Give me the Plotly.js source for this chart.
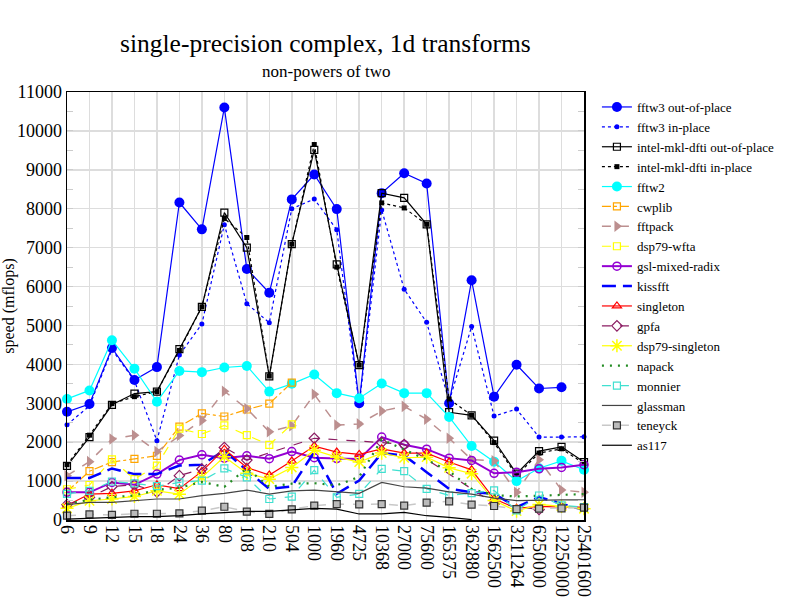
<!DOCTYPE html>
<html>
<head>
<meta charset="utf-8">
<script src="https://cdn.plot.ly/plotly-3.0.1.min.js"></script>
<style>html,body{margin:0;padding:0;background:#fff;}#chart{width:792px;height:612px;}</style>
</head>
<body>
<div id="chart"></div>
<script>
const sizes = ["6","9","12","15","18","24","36","80","108","210","504","1000","1960","4725","10368","27000","75600","165375","362880","1562500","3211264","6250000","12250000","25401600"];

const fftw3Out = [2780,2980,4420,3600,3930,8160,7470,10600,6450,5840,8240,8880,7990,3000,8400,8910,8650,3000,6160,3170,3990,3380,3410,null];
const fftw3In = [2450,2930,4380,3580,2040,4240,5040,7590,5560,5070,8000,8250,7460,2950,7970,5930,5080,3050,4970,2670,2850,2130,2130,2140];
const mklOut = [1390,2130,2960,3250,3300,4390,5480,7900,7000,3690,7090,9510,6570,3980,8400,8280,7600,2770,2690,2040,1190,1770,1880,1490];
const mklIn = [1420,2180,2990,3170,3300,4360,5480,7750,7260,3700,7090,9650,6500,3980,8150,8020,7600,3110,2690,1990,1140,1720,1830,1450];
const fftw2 = [3110,3330,4620,3890,3040,3830,3800,3920,3960,3300,3500,3740,3260,3130,3510,3260,3260,2650,1900,1500,1000,1330,1520,1290];
const cwplib = [730,1255,1490,1570,1650,2400,2740,2660,2840,2990,3530,null,null,null,null,null,null,null,null,null,null,null,null,null];
const fftpack = [1140,1500,2080,2180,1760,2170,2560,3310,2860,2270,2420,3230,2440,2470,2800,2920,2590,2100,1550,1520,715,1550,770,715];
const dsp79Wfta = [790,900,1560,1050,1400,2350,2210,2430,2180,1930,2460,null,null,null,null,null,null,null,null,null,null,null,null,null];
const gsl = [710,710,965,905,1180,1540,1675,1590,1650,1575,1760,1600,1580,1565,2130,1935,1820,1590,1530,1200,1230,1316,1350,1420];
const kissfft = [1080,1080,1325,1180,1180,1400,1420,1790,1270,800,860,1745,675,1015,1720,1660,1230,800,715,673,330,590,420,260];
const singleton = [375,667,685,750,905,805,1250,1820,1350,1155,1515,1900,1745,1685,1830,1720,1720,1490,1290,545,300,350,330,330];
const gpfa = [395,580,860,905,720,1140,1310,1865,1540,null,null,2100,null,null,1990,1940,null,null,null,420,null,270,null,null];
const dsp79Singleton = [300,495,540,605,750,665,1095,1625,1200,1050,1350,1795,1615,1490,1720,1600,1615,1340,1190,500,230,400,350,290];
const napack = [415,520,585,630,775,830,980,850,1330,850,935,945,890,1110,2070,1800,1550,1250,800,640,605,625,640,665];
const monnier = [670,750,990,940,870,965,1010,1325,1095,540,600,1280,585,670,1315,1255,800,630,690,760,245,630,375,330];
const glassman = [395,455,455,495,540,540,625,685,770,665,750,770,735,685,965,855,820,725,665,560,500,515,515,515];
const teneyck = [110,145,130,160,160,170,240,340,215,155,275,370,410,400,410,370,445,480,395,360,280,290,300,320];
const as117 = [25,45,50,85,85,110,155,195,220,220,265,300,280,155,155,195,110,70,10,null,null,null,null,null];

function tr(name, y, line, marker, extra) {
  const t = {type:'scatter', x:sizes, y:y, name:name, cliponaxis:false,
    mode: marker ? 'lines+markers' : 'lines', line:line};
  if (marker) t.marker = marker;
  return Object.assign(t, extra || {});
}

const traces = [
  tr('fftw3 out-of-place', fftw3Out, {color:'#0000ff', width:1.2}, {symbol:'circle', size:10, color:'#0000ff'}),
  tr('fftw3 in-place', fftw3In, {color:'#0000ff', width:1.2, dash:'dot'}, {symbol:'circle', size:5, color:'#0000ff'}),
  tr('intel-mkl-dfti out-of-place', mklOut, {color:'#000000', width:1.2}, {symbol:'square-open', size:7, color:'#000000', line:{width:1.2}}),
  tr('intel-mkl-dfti in-place', mklIn, {color:'#000000', width:1.2, dash:'dot'}, {symbol:'square', size:5, color:'#000000'}),
  tr('fftw2', fftw2, {color:'#00ffff', width:1.2}, {symbol:'circle', size:10, color:'#00ffff'}),
  tr('cwplib', cwplib, {color:'#ffa500', width:1.2, dash:'dashdot'}, {symbol:'square-open', size:7, color:'#ffa500', line:{width:1.2}}),
  tr('fftpack', fftpack, {color:'#bc8f8f', width:1.5, dash:'dash'}, {symbol:'triangle-right', size:10, color:'#bc8f8f'}),
  tr('dsp79-wfta', dsp79Wfta, {color:'#ffff00', width:1.2, dash:'dash'}, {symbol:'square-open', size:7, color:'#ffff00', line:{width:1.2}}),
  tr('gsl-mixed-radix', gsl, {color:'#9400d3', width:2}, {symbol:'circle-open', size:8, color:'#9400d3', line:{width:1.5}}),
  tr('kissfft', kissfft, {color:'#0000ff', width:2.5, dash:'14px,7px'}, null),
  tr('singleton', singleton, {color:'#ff0000', width:1.2}, {symbol:'triangle-up-open', size:8, color:'#ff0000', line:{width:1.2}}),
  tr('gpfa', gpfa, {color:'#8b1c62', width:1.2, dash:'dash'}, {symbol:'diamond-open', size:8, color:'#8b1c62', line:{width:1.2}}, {connectgaps:true}),
  tr('dsp79-singleton', dsp79Singleton, {color:'#ffff00', width:1.2}, {symbol:'asterisk-open', size:11, color:'#ffff00', line:{width:1.5, color:'#ffff00'}}),
  tr('napack', napack, {color:'#228b22', width:2.2, dash:'2px,6px'}, null),
  tr('monnier', monnier, {color:'#40e0d0', width:1.2, dash:'dash'}, {symbol:'square-open', size:7, color:'#40e0d0', line:{width:1.2}}),
  tr('glassman', glassman, {color:'#444444', width:1.2}, null),
  tr('teneyck', teneyck, {color:'#c8c8c8', width:1.5, dash:'dash'}, {symbol:'square', size:7, color:'#bbbbbb', line:{width:1.2, color:'#333333'}}),
  tr('as117', as117, {color:'#000000', width:1.2}, null)
];

const serif = '"Liberation Serif", "Times New Roman", serif';

const layout = {
  width:792, height:612,
  paper_bgcolor:'#ffffff', plot_bgcolor:'#ffffff',
  margin:{l:67, r:205, t:92, b:92, pad:0},
  font:{family:serif, size:17, color:'#000'},
  showlegend:true,
  legend:{x:1.025, y:1.0, xanchor:'left', yanchor:'top', font:{family:serif, size:13, color:'#000'}, bgcolor:'rgba(0,0,0,0)', borderwidth:0, tracegroupgap:0},
  xaxis:{type:'category', range:[0,23], tickmode:'linear', dtick:1, showgrid:true, gridcolor:'#dddddd', gridwidth:1.5,
    showline:true, linecolor:'#000', linewidth:1.5, mirror:true, ticks:'', tickangle:90,
    tickfont:{family:serif, size:18, color:'#000'}, zeroline:false, automargin:false},
  yaxis:{range:[0,11000], dtick:1000, tickformat:'d', showgrid:true, gridcolor:'#dddddd', gridwidth:1.5,
    showline:true, linecolor:'#000', linewidth:1.5, mirror:'ticks', ticks:'inside', ticklen:6, tickcolor:'#cccccc',
    minor:{dtick:500, ticks:'inside', ticklen:6, tickcolor:'#cccccc', showgrid:false},
    tickfont:{family:serif, size:18, color:'#000'}, zeroline:false, automargin:false,
    title:{text:'speed (mflops)', font:{family:serif, size:16, color:'#000'}, standoff:4}},
  annotations:[
    {text:'single-precision complex, 1d transforms', xref:'paper', yref:'paper', x:0.5, y:1.0, yshift:49, xanchor:'center', yanchor:'middle', showarrow:false, font:{family:serif, size:25.5, color:'#000'}},
    {text:'non-powers of two', xref:'paper', yref:'paper', x:0.5, y:1.0, yshift:21, xanchor:'center', yanchor:'middle', showarrow:false, font:{family:serif, size:17, color:'#000'}}
  ]
};

Plotly.newPlot('chart', traces, layout, {displayModeBar:false, staticPlot:true});
</script>
</body>
</html>
